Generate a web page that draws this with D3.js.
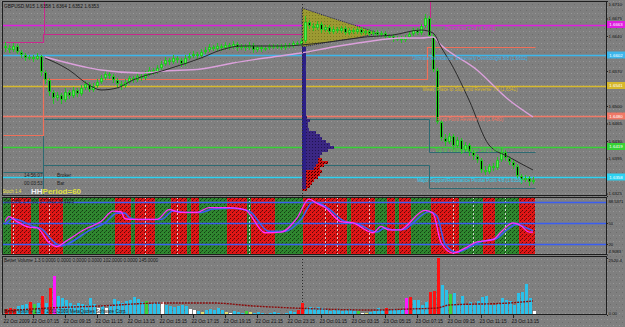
<!DOCTYPE html>
<html><head><meta charset="utf-8">
<script src="https://cdn.jsdelivr.net/npm/d3@7"></script>
<style>
html,body{margin:0;padding:0;background:#7e7e7e;overflow:hidden}
svg{display:block}
text{font-family:"Liberation Sans",Arial,sans-serif}
</style></head><body>
<svg id="c" width="625" height="327"></svg>
<script>
// ---------------- DATA ----------------
const chartTitle = "GBPUSD,M15 1.6358 1.6364 1.6352 1.6353";
const firstOpen = 1.6620;
const closes = [1.6616,1.6612,1.6620,1.6608,1.6602,1.6596,1.6598,1.6594,1.6600,1.6568,
1.6552,1.6528,1.6516,1.6522,1.6512,1.6528,1.6520,1.6532,1.6524,1.6536,
1.6544,1.6532,1.6540,1.6548,1.6556,1.6564,1.6560,1.6552,1.6544,1.6540,
1.6548,1.6556,1.6552,1.6560,1.6556,1.6564,1.6572,1.6568,1.6576,1.6584,
1.6592,1.6588,1.6596,1.6592,1.6584,1.6596,1.6600,1.6604,1.6600,1.6608,
1.6612,1.6618,1.6614,1.6620,1.6616,1.6622,1.6618,1.6624,1.6616,1.6620,
1.6616,1.6622,1.6612,1.6618,1.6614,1.6616,1.6620,1.6618,1.6620,1.6616,
1.6622,1.6620,1.6626,1.6624,1.6630,1.6668,1.6660,1.6656,1.6664,1.6652,
1.6658,1.6648,1.6654,1.6650,1.6656,1.6646,1.6652,1.6648,1.6654,1.6646,
1.6650,1.6644,1.6648,1.6642,1.6646,1.6638,1.6640,1.6634,1.6636,1.6632,
1.6638,1.6644,1.6652,1.6646,1.6660,1.6676,1.6640,1.6572,1.6468,1.6436,
1.6428,1.6440,1.6420,1.6432,1.6412,1.6422,1.6408,1.6400,1.6392,1.6372,
1.6368,1.6380,1.6376,1.6392,1.6408,1.6396,1.6388,1.6380,1.6360,1.6352,
1.6356,1.6348,1.6352];
const highs = [1.6628,1.6622,1.6626,1.6624,1.6612,1.6606,1.6602,1.6602,1.6606,1.6602,
1.6572,1.6556,1.6532,1.6528,1.6526,1.6536,1.6532,1.6538,1.6536,1.6542,
1.6550,1.6548,1.6546,1.6554,1.6562,1.6572,1.6568,1.6564,1.6556,1.6550,
1.6554,1.6560,1.6560,1.6566,1.6564,1.6570,1.6578,1.6576,1.6582,1.6590,
1.6598,1.6596,1.6602,1.6600,1.6596,1.6602,1.6606,1.6610,1.6608,1.6614,
1.6618,1.6624,1.6622,1.6626,1.6624,1.6628,1.6626,1.6630,1.6628,1.6624,
1.6624,1.6628,1.6626,1.6622,1.6622,1.6620,1.6624,1.6624,1.6624,1.6624,
1.6626,1.6626,1.6630,1.6630,1.6636,1.6680,1.6672,1.6666,1.6670,1.6668,
1.6662,1.6662,1.6660,1.6658,1.6660,1.6660,1.6656,1.6656,1.6658,1.6658,
1.6654,1.6654,1.6652,1.6652,1.6650,1.6650,1.6644,1.6644,1.6640,1.6640,
1.6642,1.6648,1.6656,1.6656,1.6664,1.6684,1.6680,1.6644,1.6576,1.6472,
1.6444,1.6446,1.6444,1.6438,1.6436,1.6428,1.6426,1.6412,1.6404,1.6396,
1.6380,1.6384,1.6386,1.6398,1.6416,1.6412,1.6400,1.6392,1.6384,1.6364,
1.6362,1.6360,1.6358];
const lows = [1.6608,1.6606,1.6608,1.6604,1.6596,1.6590,1.6592,1.6588,1.6592,1.6560,
1.6544,1.6520,1.6504,1.6510,1.6504,1.6508,1.6514,1.6516,1.6518,1.6520,
1.6532,1.6528,1.6528,1.6536,1.6544,1.6552,1.6554,1.6546,1.6536,1.6532,
1.6536,1.6544,1.6546,1.6548,1.6550,1.6552,1.6560,1.6562,1.6564,1.6572,
1.6580,1.6582,1.6584,1.6586,1.6578,1.6580,1.6592,1.6596,1.6594,1.6596,
1.6604,1.6608,1.6610,1.6610,1.6610,1.6612,1.6612,1.6614,1.6610,1.6612,
1.6610,1.6612,1.6606,1.6608,1.6608,1.6610,1.6612,1.6614,1.6614,1.6612,
1.6612,1.6616,1.6616,1.6620,1.6620,1.6626,1.6654,1.6650,1.6652,1.6646,
1.6648,1.6644,1.6644,1.6646,1.6646,1.6642,1.6642,1.6644,1.6644,1.6642,
1.6642,1.6640,1.6640,1.6638,1.6638,1.6632,1.6634,1.6628,1.6630,1.6626,
1.6628,1.6634,1.6640,1.6642,1.6642,1.6656,1.6636,1.6568,1.6464,1.6430,
1.6420,1.6424,1.6412,1.6416,1.6404,1.6408,1.6400,1.6392,1.6386,1.6366,
1.6362,1.6364,1.6370,1.6372,1.6388,1.6390,1.6382,1.6374,1.6354,1.6344,
1.6348,1.6340,1.6344];

// moving averages (bar index, price)
const maFastBars = [10,16,21,24,28,32,40,49,54,59,70,74,81,90,97,104,107,109,112,116,121,126,132];
const maFastVals = [1.6596,1.6572,1.6542,1.6532,1.6536,1.6552,1.6572,1.6596,1.6612,1.6620,1.6620,1.6622,1.6628,1.6638,1.6642,1.6652,1.6646,1.6618,1.6578,1.6512,1.6422,1.6398,1.6372];
const maSlowBars = [10,20,24,34,40,49,57,65,74,82,90,99,104,107,109,118,126,132];
const maSlowVals = [1.6598,1.6578,1.6572,1.6566,1.6570,1.6574,1.6586,1.6596,1.6606,1.6618,1.6628,1.6636,1.6636,1.6638,1.6622,1.6572,1.6512,1.6478];

// Murrey math levels
const mmLevels = [1.6663,1.6602,1.6541,1.6480,1.6419,1.6358];
const mmNames = ["Overshoot +1/8","Ultimate Resistance, Extremely Overbought 8/8","Weak, Place to Stop and Reverse 7/8","Pivot Point Reverse 6/8","Top of Trading Range 5/8","Major Support/Resistance Pivotal Point 4/8"];
const mmColors = ["#e01ee0","#3cb6ec","#d6b82c","#f07866","#36d236","#2cd2f2"];

// step lines [fromBar, toBar, price]
const orangeSteps = [[-0.5,9.5,1.6442],[9.5,105.5,1.6554],[105.5,132.5,1.6618]];
const tealUpperSteps = [[-0.5,9.5,1.6368],[9.5,106,1.6474],[106,132.5,1.6408]];
const tealLowerSteps = [[9.5,9.5,1.6318],[9.5,106,1.6382],[106,132.5,1.6336]];
const magentaSteps = [[-0.5,9.5,1.6628],[9.5,74,1.6644]];
const vLineBars = [9.75, 106.25];
const sessionBar = 74.25;

// volume profile
const profilePrices = [1.6616,1.6610,1.6604,1.6598,1.6592,1.6586,1.6580,1.6574,1.6568,1.6562,1.6556,1.6550,1.6544,1.6538,1.6532,1.6526,1.6520,1.6514,1.6508,1.6502,1.6496,1.6490,1.6484,1.6478,1.6472,1.6466,1.6460,1.6454,1.6448,1.6442,1.6436,1.6430,1.6424,1.6418,1.6412,1.6406,1.6400,1.6394,1.6388,1.6382,1.6376,1.6370,1.6364,1.6358,1.6352,1.6346,1.6340,1.6334];
const profileBlue = [4,4,4,4,4,4,3,3,4,4,4,4,4,4,4,4,4,4,4,4,4,4,4,5,8,6,6,7,14,18,20,24,28,32,26,20,18,16,16,14,12,4,0,0,0,0,0,0];
const profileRed  = [0,0,0,0,0,0,0,0,0,0,0,0,0,0,0,0,0,0,0,0,0,0,0,0,0,0,0,0,0,0,0,0,0,0,0,0,0,4,10,8,6,16,18,16,12,10,8,5];
const triBars = [74.25,81,88,93.25,88,81,74.25];
const triPrices = [1.6696,1.6678,1.6660,1.6646,1.6636,1.6628,1.6618];

// price axis (levels hidden behind the coloured level boxes are not shown)
const priceTicks = [1.6710,1.6675,1.6640,1.6570,1.6500,1.6465,1.6430,1.6395,1.6325];

// stochastic
const stochMin = 4.9083, stochMax = 88.5371;
const stochLevels = [80,50,20];
const stochKBars = [0,1,3,6,8,11,13,15,20,24,27,29,30,32,38,41,44,48,51,56,60,65,69,73,76,78,80,84,87,92,94,96,99,100,105,107,109,112,115,118,122,124,127,129,131,132];
const stochKVals = [52,59,52,44,43,22,16,23,41,52,67,66,56,55,55,69,65,65,72,72,69,36,37,57,84,78,72,52,50,36,45,40,40,44,68,64,22,7,14,23,26,37,50,46,37,37];
const stochDBars = [0,2,4,7,9,12,14,16,21,25,28,30,31,33,39,42,45,49,52,57,61,66,70,74,77,79,81,85,88,93,95,97,100,101,106,108,110,113,116,119,123,125,128,130,132];
const stochDVals = [48,56,53,45,42,24,17,21,39,50,64,64,58,55,55,67,65,65,70,71,67,38,38,55,80,77,70,52,49,37,43,40,41,45,66,60,20,8,15,23,28,38,48,44,39];
const fallingZones = [[2,6],[9,14],[28,31],[33,37],[42,45],[47,48],[56,60],[62,67],[75,85],[87,92],[96,97],[99,101],[107,113],[120,122],[129,132]];
const crossBars = [2,11,35,43,61,80,83,91,112,117,125];

// volume
const volMax = 2520.4;
const volumes = [260,300,270,400,440,480,570,480,530,840,
530,1190,1720,840,750,660,530,440,530,480,
440,750,490,310,400,310,440,710,620,530,
620,660,800,710,570,620,490,530,570,570,
440,400,350,400,440,400,265,220,180,130,
220,265,220,310,220,130,90,180,130,90,
180,130,90,130,90,45,90,130,90,45,
90,180,130,220,530,310,350,310,350,310,
265,180,220,265,180,220,265,180,180,90,
90,130,180,310,220,310,220,265,220,265,
750,800,660,660,440,570,1020,1060,2520,1330,
1100,930,970,440,840,440,570,440,620,800,
840,440,440,490,750,660,600,440,970,1000,
1370,750,180];
const volTypes = ["r","r","r","c","c","c","r","g","c","r",
"c","r","m","c","c","c","c","c","c","c",
"c","c","c","w","c","w","c","c","c","c",
"c","c","c","c","c","g","c","c","c","w",
"c","c","c","c","c","c","w","w","c","y",
"c","c","c","c","c","y","w","c","c","c",
"g","y","c","c","c","y","c","c","c","w",
"c","c","c","r","r","c","c","c","c","c",
"c","c","c","c","c","c","c","c","g","w",
"y","c","c","c","c","r","c","c","c","c",
"m","r","c","c","c","c","r","r","r","c",
"c","g","c","c","c","c","c","c","c","c",
"c","c","c","c","c","c","c","c","c","c",
"c","c","w"];
const volMaBars = [0,11,24,39,52,62,72,93,101,108,111,126,132];
const volMaVals = [180,310,400,530,530,400,310,220,265,310,440,530,620];

// time axis
const timeLabelBars = [0,7,15,23,31,39,47,55,63,71,79,87,95,103,111,119,127];
const timeLabels = ["22 Oct 2009","22 Oct 07:15","22 Oct 09:15","22 Oct 11:15","22 Oct 13:15","22 Oct 15:15","22 Oct 17:15","22 Oct 19:15","22 Oct 21:15","22 Oct 23:15","23 Oct 01:15","23 Oct 03:15","23 Oct 05:15","23 Oct 07:15","23 Oct 09:15","23 Oct 11:15","23 Oct 13:15"];

// ---------------- DRAW ----------------
const F = {l:2, r:607, mT:1, mB:196, oT:197, oB:255, vT:256, vB:315};
const svg = d3.select("#c");
const defs = svg.append("defs");
function pattern(id, size, base, dots){
  const p = defs.append("pattern").attr("id",id).attr("width",size).attr("height",size).attr("patternUnits","userSpaceOnUse");
  p.append("rect").attr("width",size).attr("height",size).attr("fill",base);
  dots.forEach(d=>p.append("rect").attr("x",d[0]).attr("y",d[1]).attr("width",1).attr("height",1).attr("fill",d[2]));
}
pattern("bg",6,"#7f7f7f",[[1,1,"#999"],[4,4,"#6c6c6c"],[4,1,"#8a8a8a"]]);
pattern("redH",4,"#e01616",[[0,0,"#5a0808"],[2,2,"#5a0808"],[1,3,"#8a1010"]]);
pattern("grnH",4,"#2f862f",[[0,0,"#123c12"],[2,2,"#123c12"],[1,3,"#1e5a1e"]]);
pattern("purp",3,"#3b2783",[[0,0,"#201450"]]);
pattern("redP",3,"#d01010",[[0,0,"#300000"],[2,1,"#300000"]]);
pattern("olive",3,"#9c9a32",[[0,0,"#7c7a22"]]);

[["cm",F.mT,F.mB],["co",F.oT,F.oB],["cv",F.vT,F.vB]].forEach(c=>{
  defs.append("clipPath").attr("id",c[0]).append("rect").attr("x",F.l).attr("y",c[1]).attr("width",F.r-F.l).attr("height",c[2]-c[1]);
});

svg.append("rect").attr("width",625).attr("height",327).attr("fill","url(#bg)");

const x = d3.scaleLinear().domain([0,132]).range([5,533]);
const y = d3.scaleLinear().domain([1.6320,1.6710]).range([196,1]);
const yO = d3.scaleLinear().domain([stochMin,stochMax]).range([254.5,196]);
const yV = d3.scaleLinear().domain([0,volMax]).range([315,258]);
const n = closes.length;
const opens = closes.map((c,i)=> i===0 ? firstOpen : closes[i-1]);

// ---------- MAIN PANEL ----------
const gm = svg.append("g").attr("clip-path","url(#cm)");

gm.selectAll("line.mm").data(mmLevels).join("line")
  .attr("x1",F.l).attr("x2",F.r).attr("y1",d=>Math.round(y(d))+0.5).attr("y2",d=>Math.round(y(d))+0.5)
  .attr("stroke",(d,i)=>mmColors[i]).attr("stroke-width",1.6);

function stepPath(steps){
  const pts=[]; steps.forEach(s=>{pts.push([s[0],s[2]]); pts.push([s[1],s[2]]);});
  return d3.line().x(d=>Math.round(x(d[0]))+0.5).y(d=>Math.round(y(d[1]))+0.5)(pts);
}
gm.append("path").attr("d",stepPath(tealUpperSteps)).attr("fill","none").attr("stroke","#2d6a72").attr("stroke-width",1);
gm.append("path").attr("d",stepPath(tealLowerSteps)).attr("fill","none").attr("stroke","#2d6a72").attr("stroke-width",1);
gm.append("path").attr("d",stepPath(orangeSteps)).attr("fill","none").attr("stroke","#f0705a").attr("stroke-width",1.2);
gm.append("path").attr("d",stepPath(magentaSteps)).attr("fill","none").attr("stroke","#c8288c").attr("stroke-width",1.2);
gm.selectAll("line.vl").data(vLineBars).join("line")
  .attr("x1",d=>Math.round(x(d))+0.5).attr("x2",d=>Math.round(x(d))+0.5)
  .attr("y1",F.mT).attr("y2",(d,i)=> i===0 ? y(magentaSteps[1][2]) : y(mmLevels[0]))
  .attr("stroke","#c8288c").attr("stroke-width",1);

svg.append("line").attr("x1",Math.round(x(sessionBar))+0.5).attr("x2",Math.round(x(sessionBar))+0.5)
  .attr("y1",F.mT).attr("y2",F.vB).attr("stroke","#2a2a2a").attr("stroke-dasharray","1,2");

gm.append("path").attr("d", d3.line().x((d,i)=>x(triBars[i])).y((d,i)=>y(triPrices[i]))(triBars)+"Z")
  .attr("fill","url(#olive)").attr("stroke","#22205a").attr("stroke-dasharray","1,1").attr("stroke-width",1);

const px0 = Math.round(x(sessionBar));
const binH = Math.abs(y(profilePrices[0])-y(profilePrices[1]));
gm.selectAll("rect.pb").data(profilePrices).join("rect")
  .attr("x",px0).attr("y",d=>y(d)-binH/2).attr("height",binH).attr("width",(d,i)=>profileBlue[i])
  .attr("fill","url(#purp)").attr("shape-rendering","crispEdges");
gm.selectAll("rect.pr").data(profilePrices).join("rect")
  .attr("x",(d,i)=>px0+profileBlue[i]).attr("y",d=>y(d)-binH/2).attr("height",binH).attr("width",(d,i)=>profileRed[i])
  .attr("fill","url(#redP)").attr("shape-rendering","crispEdges");
gm.append("rect").attr("x",px0).attr("y",y(triPrices[6])).attr("width",4).attr("height",y(profilePrices[profilePrices.length-1])-y(triPrices[6]))
  .attr("fill","#2a1f8a").attr("opacity",0.85);

const idx = d3.range(n);
gm.selectAll("line.wick").data(idx).join("line")
  .attr("x1",i=>x(i)+0.5).attr("x2",i=>x(i)+0.5)
  .attr("y1",i=>y(highs[i])).attr("y2",i=>y(lows[i]))
  .attr("stroke","#22c622").attr("stroke-width",1);
gm.selectAll("rect.body").data(idx).join("rect")
  .attr("x",i=>x(i)-0.5).attr("width",2)
  .attr("y",i=>Math.round(y(Math.max(opens[i],closes[i])))+0.5)
  .attr("height",i=>Math.max(0.5,Math.round(Math.abs(y(opens[i])-y(closes[i])))-1))
  .attr("fill",i=> closes[i]>=opens[i] ? "#56f056" : "#000")
  .attr("stroke","#22c622").attr("stroke-width",1);

const lineGen = (bars,vals,ys)=> d3.line().curve(d3.curveMonotoneX).x((d,i)=>x(bars[i])).y((d,i)=>ys(vals[i]))(bars);
gm.append("path").attr("d",lineGen(maSlowBars,maSlowVals,y)).attr("fill","none").attr("stroke","#dca0dc").attr("stroke-width",1.4);
gm.append("path").attr("d",lineGen(maFastBars,maFastVals,y)).attr("fill","none").attr("stroke","#2a2a2a").attr("stroke-width",1);

gm.selectAll("text.mm").data(mmLevels).join("text")
  .attr("x",470).attr("y",d=>y(d)+5.2).attr("text-anchor","middle")
  .attr("font-size",4.6).attr("fill",(d,i)=>mmColors[i])
  .text((d,i)=>mmNames[i]+" ("+d3.format(".4f")(d)+")");

svg.append("text").attr("x",4).attr("y",8).attr("font-size",4.8).attr("fill","#111").text(chartTitle);
svg.append("text").attr("x",24).attr("y",177).attr("font-size",4.8).attr("fill","#222").text("14:56:07");
svg.append("text").attr("x",57).attr("y",177).attr("font-size",4.8).attr("fill","#222").text("Broker");
svg.append("text").attr("x",24).attr("y",185).attr("font-size",4.8).attr("fill","#222").text("00:03:53");
svg.append("text").attr("x",57).attr("y",185).attr("font-size",4.8).attr("fill","#222").text("Bar");
svg.append("text").attr("x",2).attr("y",193).attr("font-size",4.6).attr("fill","#e8e040").text("Stoch 1.4");
const hp = svg.append("text").attr("x",31).attr("y",194).attr("font-size",8).attr("font-weight","bold");
hp.append("tspan").attr("fill","#f0f0f0").text("HH");
hp.append("tspan").attr("fill","#e0e040").text("Period=60");

// price axis
const pa = svg.append("g").attr("transform",`translate(${F.r},0)`)
  .call(d3.axisRight(y).tickValues(priceTicks).tickFormat(d3.format(".4f")).tickSize(1).tickPadding(0.5));
pa.select(".domain").remove();
pa.selectAll("line").attr("stroke","#222");
pa.selectAll("text").attr("font-size",4.4).attr("fill","#111").attr("font-family","Liberation Sans, Arial")
  .attr("dy","0.32em").attr("y",d=> y(d)<4 ? 3 : 0);
const boxes = svg.append("g");
boxes.selectAll("rect").data(mmLevels).join("rect")
  .attr("x",F.r).attr("y",d=>y(d)-3.5).attr("width",18).attr("height",7).attr("fill",(d,i)=>mmColors[i]);
boxes.selectAll("text").data(mmLevels).join("text")
  .attr("x",F.r+9).attr("y",d=>y(d)+1.6).attr("text-anchor","middle").attr("font-size",4.4).attr("fill","#fff")
  .text(d=>d3.format(".4f")(d));

// ---------- OSCILLATOR PANEL ----------
const go = svg.append("g").attr("clip-path","url(#co)");
const falling = i => fallingZones.some(z=> i>=z[0] && i<=z[1]);
go.selectAll("rect.band").data(idx).join("rect")
  .attr("x",i=>x(i)-2).attr("width",4).attr("y",F.oT).attr("height",F.oB-F.oT)
  .attr("fill",i=> falling(i) ? "url(#redH)" : "url(#grnH)").attr("shape-rendering","crispEdges");
go.selectAll("line.cross").data(crossBars).join("line")
  .attr("x1",d=>x(d)+0.5).attr("x2",d=>x(d)+0.5).attr("y1",F.oT).attr("y2",F.oB)
  .attr("stroke","#e6e6e6").attr("stroke-dasharray","2,2").attr("stroke-width",1).attr("opacity",0.85);
go.selectAll("line.lev").data(stochLevels).join("line")
  .attr("x1",F.l).attr("x2",F.r).attr("y1",d=>Math.round(yO(d))+0.5).attr("y2",d=>Math.round(yO(d))+0.5)
  .attr("stroke","#3a5ef2").attr("stroke-width",1.3);
go.append("path").attr("d",lineGen(stochDBars,stochDVals,yO)).attr("fill","none").attr("stroke","#3a5ef2").attr("stroke-width",1.6);
go.append("path").attr("d",lineGen(stochKBars,stochKVals,yO)).attr("fill","none").attr("stroke","#ff2cff").attr("stroke-width",1.3);
svg.append("text").attr("x",4).attr("y",203).attr("font-size",4.6).attr("fill","#1a1a1a").text("StochHL 1.4 (60) 37.0412 39.1125");
const oa = svg.append("g").attr("transform",`translate(${F.r},0)`)
  .call(d3.axisRight(yO).tickValues([stochMax,50,20,stochMin]).tickFormat(d=> d===50||d===20 ? d : d3.format(".4f")(d)).tickSize(1).tickPadding(0.5));
oa.select(".domain").remove();
oa.selectAll("line").attr("stroke","#222");
oa.selectAll("text").attr("font-size",4.1).attr("fill","#111").attr("font-family","Liberation Sans, Arial")
  .attr("dy","0.32em").attr("y",d=> d===stochMax ? 5 : (d===stochMin ? -3 : 0));

// ---------- VOLUME PANEL ----------
const gv = svg.append("g").attr("clip-path","url(#cv)");
const vcol = {c:"#2cc0e8", r:"#ff1212", m:"#ff18ff", g:"#3ad23a", w:"#ffffff", y:"#dede6a"};
gv.selectAll("rect.vol").data(idx).join("rect")
  .attr("x",i=>x(i)).attr("width",3)
  .attr("y",i=>yV(volumes[i])).attr("height",i=>yV(0)-yV(volumes[i]))
  .attr("fill",i=>vcol[volTypes[i]]).attr("shape-rendering","crispEdges");
gv.append("path").attr("d",lineGen(volMaBars,volMaVals,yV)).attr("fill","none").attr("stroke","#8a0a0a").attr("stroke-width",1.4).attr("stroke-dasharray","2,1");
svg.append("text").attr("x",4).attr("y",262).attr("font-size",4.6).attr("fill","#1a1a1a").text("Better Volume 1.3 0.0000 0.0000 0.0000 0.0000 102.0000 0.0000 145.0000");
svg.append("text").attr("x",4).attr("y",313).attr("font-size",4.6).attr("fill","#1a1a1a").text("Better Volume 1.3   © 2001-2009 MetaQuotes Software Corp.");
const va = svg.append("g").attr("transform",`translate(${F.r},0)`)
  .call(d3.axisRight(yV).tickValues([volMax,0]).tickFormat(d=> d===0 ? "0.00" : d3.format(".1f")(d)).tickSize(1).tickPadding(0.5));
va.select(".domain").remove();
va.selectAll("line").attr("stroke","#222");
va.selectAll("text").attr("font-size",4.4).attr("fill","#111").attr("font-family","Liberation Sans, Arial")
  .attr("dy","0.32em").attr("y",d=> d===volMax ? 2 : -2);

// frames
[[F.mT,F.mB],[F.oT,F.oB],[F.vT,F.vB]].forEach(p=>{
  svg.append("rect").attr("x",F.l+0.5).attr("y",p[0]+0.5).attr("width",F.r-F.l-1).attr("height",p[1]-p[0]-1)
    .attr("fill","none").attr("stroke","#1e1e1e").attr("stroke-width",1);
});

// time axis
const ta = svg.append("g").attr("transform",`translate(0,${F.vB})`)
  .call(d3.axisBottom(x).tickValues(timeLabelBars).tickFormat((d,i)=>timeLabels[i]).tickSize(3).tickPadding(1));
ta.select(".domain").remove();
ta.selectAll("line").attr("stroke","#222");
ta.selectAll("text").attr("font-size",4.8).attr("fill","#111").attr("font-family","Liberation Sans, Arial")
  .attr("text-anchor","start").attr("x",-2).attr("dy","0.9em");
</script>
</body></html>
